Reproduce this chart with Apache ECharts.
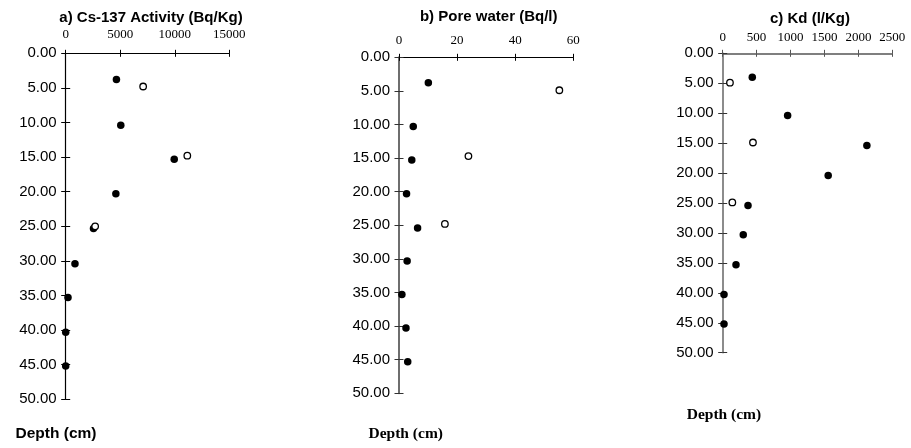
<!DOCTYPE html>
<html><head><meta charset="utf-8">
<script src="https://cdn.jsdelivr.net/npm/echarts@6/dist/echarts.min.js"></script>
<style>html,body{margin:0;padding:0;background:#fff}#c{width:911px;height:448px}</style>
</head><body><div id="c"></div><script>
// ---- data ----
const depthMin = 0, depthMax = 50, depthStep = 5;

const titles = ['a) Cs-137 Activity (Bq/Kg)', 'b) Pore water (Bq/l)', 'c) Kd (l/Kg)'];
const depthLabel = 'Depth (cm)';

const aXMax = 15000, aXStep = 5000;
const aFilledDepth = [3.8, 10.4, 15.3, 20.3, 25.3, 30.4, 35.3, 40.3, 45.2];
const aFilledVal   = [4650, 5050, 9950, 4600, 2550, 850, 210, 0, 0];
const aOpenDepth   = [4.8, 14.8, 25.0];
const aOpenVal     = [7100, 11150, 2700];

const bXMax = 60, bXStep = 20;
const bFilledDepth = [3.8, 10.3, 15.3, 20.3, 25.4, 30.3, 35.3, 40.3, 45.3];
const bFilledVal   = [10.1, 4.9, 4.4, 2.6, 6.4, 2.8, 1.0, 2.4, 3.0];
const bOpenDepth   = [4.9, 14.7, 24.8];
const bOpenVal     = [55.2, 23.9, 15.8];

const cXMax = 2500, cXStep = 500;
const cFilledDepth = [4.0, 10.4, 15.4, 20.4, 25.4, 30.3, 35.3, 40.3, 45.2];
const cFilledVal   = [436, 957, 2125, 1555, 373, 303, 196, 19, 19];
const cOpenDepth   = [4.9, 14.9, 24.9];
const cOpenVal     = [107, 446, 142];

// ---- layout / style ----
const SANS = '"Liberation Sans", Arial, sans-serif';
const SERIF = '"Liberation Serif", "Times New Roman", serif';
const zip = (v, d) => v.map((x, i) => [x, d[i]]);

const panels = [
  { grid: {left: 65.7, top: 53.3, width: 163.6, height: 346}, xMax: aXMax, xStep: aXStep,
    xColor: '#000', xWidth: 1, yColor: '#000', yWidth: 1.2, tickColor: '#000', xLabelMargin: 12,
    filled: zip(aFilledVal, aFilledDepth), open: zip(aOpenVal, aOpenDepth),
    titleX: 151, titleTop: 10, depthX: 55.5, depthY: 435, depthFont: SANS },
  { grid: {left: 399, top: 57.3, width: 174.3, height: 336}, xMax: bXMax, xStep: bXStep,
    xColor: '#000', xWidth: 1.2, yColor: '#6e6e6e', yWidth: 2, tickColor: '#333', xLabelMargin: 10,
    filled: zip(bFilledVal, bFilledDepth), open: zip(bOpenVal, bOpenDepth),
    titleX: 488.7, titleTop: 9, depthX: 408.5, depthY: 435, depthFont: SERIF },
  { grid: {left: 722.7, top: 53.3, width: 169.6, height: 299.4}, xMax: cXMax, xStep: cXStep,
    xColor: '#555', xWidth: 1.5, yColor: '#666', yWidth: 1.5, tickColor: '#333', xLabelMargin: 9,
    filled: zip(cFilledVal, cFilledDepth), open: zip(cOpenVal, cOpenDepth),
    titleX: 810, titleTop: 10.5, depthX: 726.7, depthY: 416, depthFont: SERIF }
];

const grid = [], xAxis = [], yAxis = [], series = [], title = [], graphic = [];
panels.forEach((p, g) => {
  grid.push(Object.assign({containLabel: false}, p.grid));
  // main x axis (outside ticks + labels)
  xAxis.push({ gridIndex: g, type: 'value', position: 'top', min: 0, max: p.xMax, interval: p.xStep,
    axisLine: {show: true, onZero: false, lineStyle: {color: p.xColor, width: p.xWidth}},
    axisTick: {show: true, inside: false, length: 3.5, lineStyle: {color: p.xColor, width: 1}},
    axisLabel: {show: true, margin: p.xLabelMargin, color: '#000', fontFamily: SERIF, fontSize: 13,
      formatter: v => String(v)},
    splitLine: {show: false} });
  // companion x axis (inside ticks, giving crossing tick marks)
  xAxis.push({ gridIndex: g, type: 'value', position: 'top', offset: 0, min: 0, max: p.xMax, interval: p.xStep,
    axisLine: {show: false, onZero: false},
    axisTick: {show: true, inside: true, length: 3.5, lineStyle: {color: p.xColor, width: 1}},
    axisLabel: {show: false}, splitLine: {show: false} });
  yAxis.push({ gridIndex: g, type: 'value', position: 'left', inverse: true,
    min: depthMin, max: depthMax, interval: depthStep,
    axisLine: {show: true, onZero: false, lineStyle: {color: p.yColor, width: p.yWidth}},
    axisTick: {show: true, inside: false, length: 4.5, lineStyle: {color: p.tickColor, width: 1}},
    axisLabel: {show: true, margin: 9, color: '#000', fontFamily: SANS, fontSize: 15,
      formatter: v => v.toFixed(2)},
    splitLine: {show: false} });
  yAxis.push({ gridIndex: g, type: 'value', position: 'left', offset: 0, inverse: true,
    min: depthMin, max: depthMax, interval: depthStep,
    axisLine: {show: false, onZero: false},
    axisTick: {show: true, inside: true, length: 4.5, lineStyle: {color: p.tickColor, width: 1}},
    axisLabel: {show: false}, splitLine: {show: false} });
  series.push({ type: 'scatter', xAxisIndex: 2 * g, yAxisIndex: 2 * g, data: p.filled, clip: false,
    symbol: 'circle', symbolSize: 7.5, itemStyle: {color: '#000', opacity: 1}, silent: true, z: 3 });
  series.push({ type: 'scatter', xAxisIndex: 2 * g + 1, yAxisIndex: 2 * g + 1, data: p.open, clip: false,
    symbol: 'circle', symbolSize: 6.5, itemStyle: {color: '#fff', borderColor: '#000', borderWidth: 1.3, opacity: 1},
    silent: true, z: 4 });
  title.push({ text: titles[g], left: p.titleX, top: p.titleTop, textAlign: 'center', padding: 0,
    textStyle: {fontFamily: SANS, fontSize: 15, fontWeight: 'bold', color: '#000', lineHeight: 16} });
  graphic.push({ type: 'text', left: p.depthX - 40, top: p.depthY - 9,
    style: {text: depthLabel, font: 'bold 15.5px ' + p.depthFont, fill: '#000'} });
});

const chart = echarts.init(document.getElementById('c'), null, {renderer: 'canvas'});
chart.setOption({ animation: false, backgroundColor: '#fff', title, grid, xAxis, yAxis, series, graphic });
</script></body></html>
